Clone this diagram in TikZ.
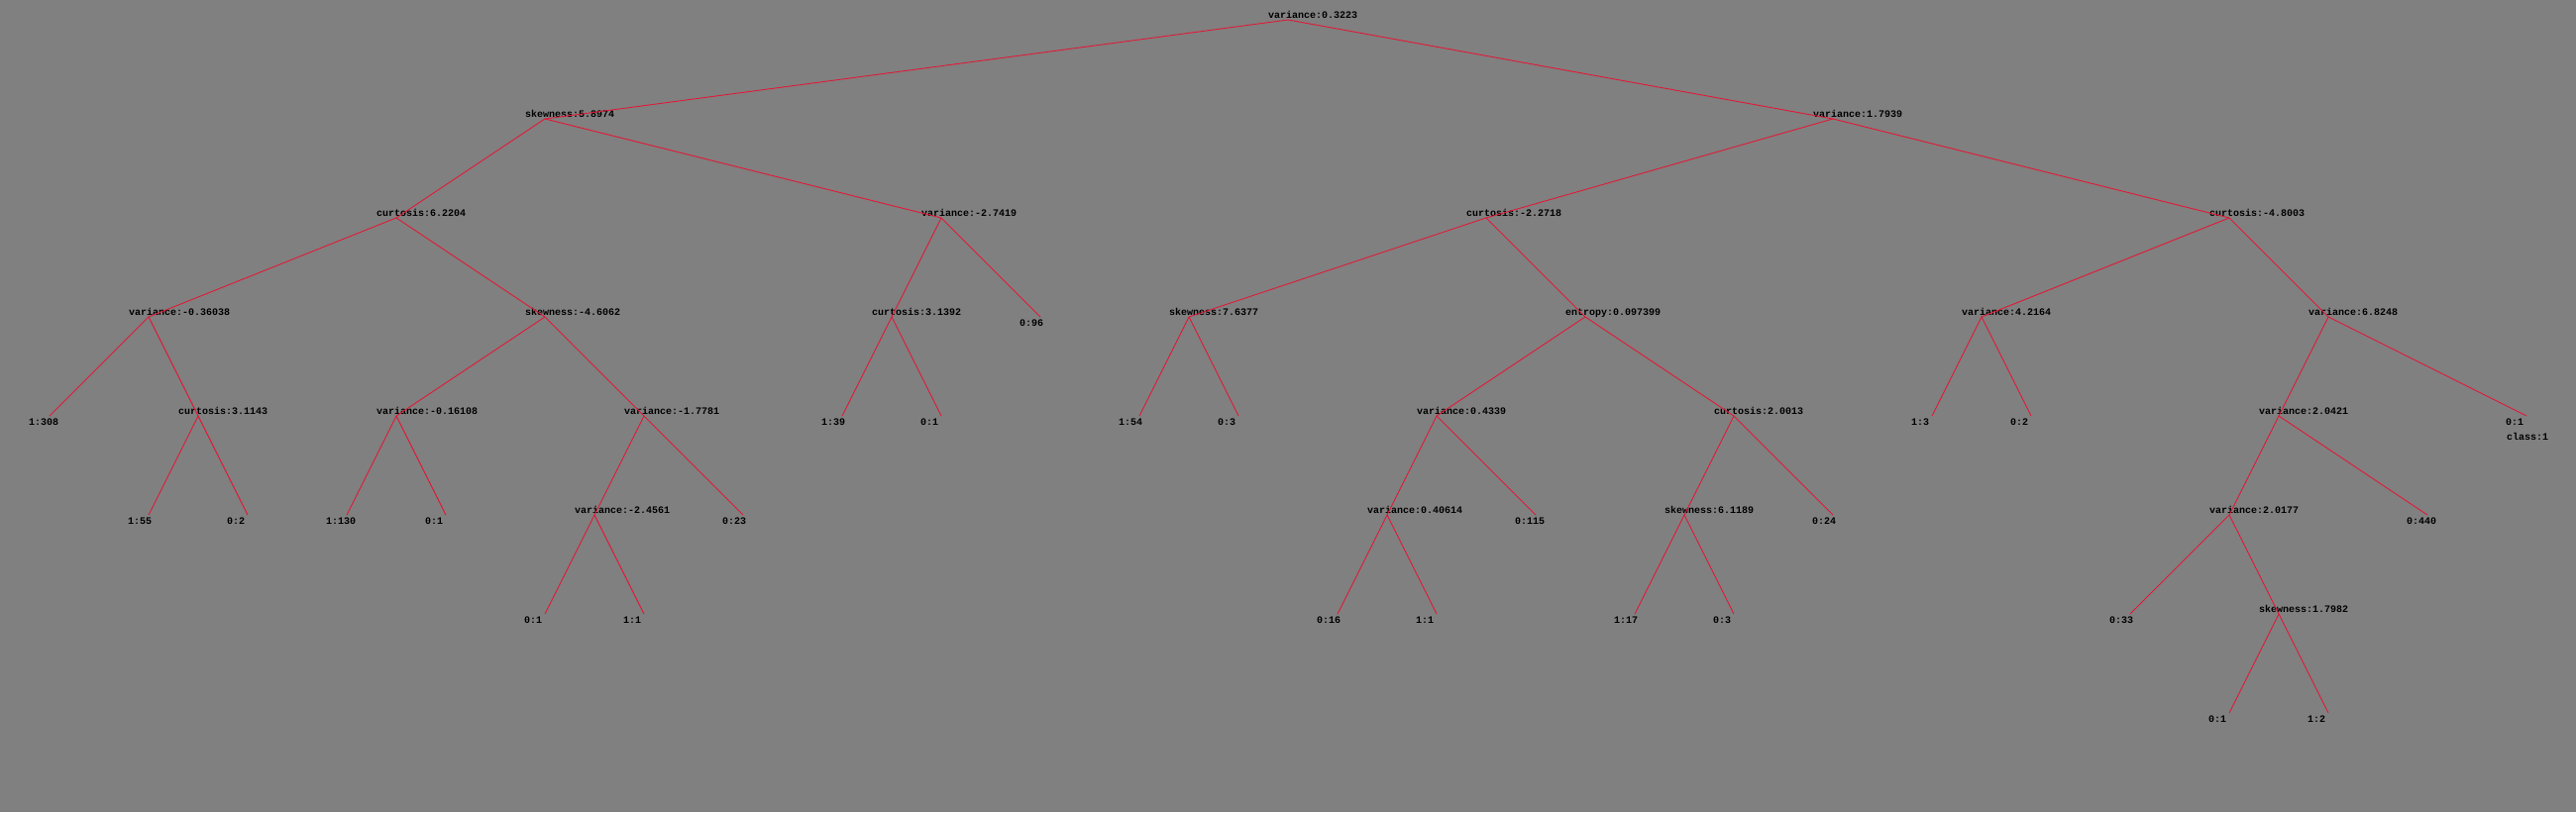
\documentclass[tikz,border=0pt]{standalone}
\usepackage{fontspec}
\setmonofont{Liberation Mono}
\definecolor{bg}{RGB}{128,128,128}
\definecolor{edgered}{RGB}{225,25,55}
\newcommand\inode[4]{\coordinate (#1) at (#2,#3); \node[itext] (#1t) at (#1) {#4};}
\newcommand\lnode[4]{\coordinate (#1) at (#2,#3); \node[ltext] (#1t) at (#1) {#4};}
\begin{document}
\begin{tikzpicture}[x=1pt,y=-1pt,
  itext/.style={anchor=base west,inner sep=0pt,xshift=-20pt,yshift=2pt,font=\fontsize{10pt}{10pt}\ttfamily\bfseries,text=black},
  ltext/.style={anchor=base west,inner sep=0pt,xshift=-21pt,yshift=-9.5pt,font=\fontsize{10pt}{10pt}\ttfamily\bfseries,text=black},
  edge/.style={draw=edgered,line width=0.9pt}]
\fill[bg] (0,0) rectangle (2600,820);
\useasboundingbox (0,0) rectangle (2600,820);
% level 0
\inode{r}{1300}{20}{variance:0.3223}
% level 1
\inode{a}{550}{120}{skewness:5.8974}
\inode{b}{1850}{120}{variance:1.7939}
% level 2
\inode{aa}{400}{220}{curtosis:6.2204}
\inode{ab}{950}{220}{variance:-2.7419}
\inode{ba}{1500}{220}{curtosis:-2.2718}
\inode{bb}{2250}{220}{curtosis:-4.8003}
% level 3
\inode{aaa}{150}{320}{variance:-0.36038}
\inode{aab}{550}{320}{skewness:-4.6062}
\inode{aba}{900}{320}{curtosis:3.1392}
\lnode{abb}{1050}{320}{0:96}
\inode{baa}{1200}{320}{skewness:7.6377}
\inode{bab}{1600}{320}{entropy:0.097399}
\inode{bba}{2000}{320}{variance:4.2164}
\inode{bbb}{2350}{320}{variance:6.8248}
% level 4
\lnode{aaaa}{50}{420}{1:308}
\inode{aaab}{200}{420}{curtosis:3.1143}
\inode{aaba}{400}{420}{variance:-0.16108}
\inode{aabb}{650}{420}{variance:-1.7781}
\lnode{abaa}{850}{420}{1:39}
\lnode{abab}{950}{420}{0:1}
\lnode{baaa}{1150}{420}{1:54}
\lnode{baab}{1250}{420}{0:3}
\inode{baba}{1450}{420}{variance:0.4339}
\inode{babb}{1750}{420}{curtosis:2.0013}
\lnode{bbaa}{1950}{420}{1:3}
\lnode{bbab}{2050}{420}{0:2}
\inode{bbba}{2300}{420}{variance:2.0421}
\lnode{bbbb}{2550}{420}{0:1}
\node[ltext,xshift=1pt,yshift=-15pt] (cls) at (bbbb) {class:1};
% level 5
\lnode{aaaba}{150}{520}{1:55}
\lnode{aaabb}{250}{520}{0:2}
\lnode{aabaa}{350}{520}{1:130}
\lnode{aabab}{450}{520}{0:1}
\inode{aabba}{600}{520}{variance:-2.4561}
\lnode{aabbb}{750}{520}{0:23}
\inode{babaa}{1400}{520}{variance:0.40614}
\lnode{babab}{1550}{520}{0:115}
\inode{babba}{1700}{520}{skewness:6.1189}
\lnode{babbb}{1850}{520}{0:24}
\inode{bbbaa}{2250}{520}{variance:2.0177}
\lnode{bbbab}{2450}{520}{0:440}
% level 6
\lnode{aabbaa}{550}{620}{0:1}
\lnode{aabbab}{650}{620}{1:1}
\lnode{babaaa}{1350}{620}{0:16}
\lnode{babaab}{1450}{620}{1:1}
\lnode{babbaa}{1650}{620}{1:17}
\lnode{babbab}{1750}{620}{0:3}
\lnode{bbbaaa}{2150}{620}{0:33}
\inode{bbbaab}{2300}{620}{skewness:1.7982}
% level 7
\lnode{bbbaaba}{2250}{720}{0:1}
\lnode{bbbaabb}{2350}{720}{1:2}
% edges
\foreach \p/\c in {r/a,r/b,a/aa,a/ab,b/ba,b/bb,aa/aaa,aa/aab,ab/aba,ab/abb,ba/baa,ba/bab,bb/bba,bb/bbb,
  aaa/aaaa,aaa/aaab,aab/aaba,aab/aabb,aba/abaa,aba/abab,baa/baaa,baa/baab,bab/baba,bab/babb,bba/bbaa,bba/bbab,bbb/bbba,bbb/bbbb,
  aaab/aaaba,aaab/aaabb,aaba/aabaa,aaba/aabab,aabb/aabba,aabb/aabbb,baba/babaa,baba/babab,babb/babba,babb/babbb,bbba/bbbaa,bbba/bbbab,
  aabba/aabbaa,aabba/aabbab,babaa/babaaa,babaa/babaab,babba/babbaa,babba/babbab,bbbaa/bbbaaa,bbbaa/bbbaab,
  bbbaab/bbbaaba,bbbaab/bbbaabb}
  \draw[edge] (\p) -- (\c);
\end{tikzpicture}
\end{document}
